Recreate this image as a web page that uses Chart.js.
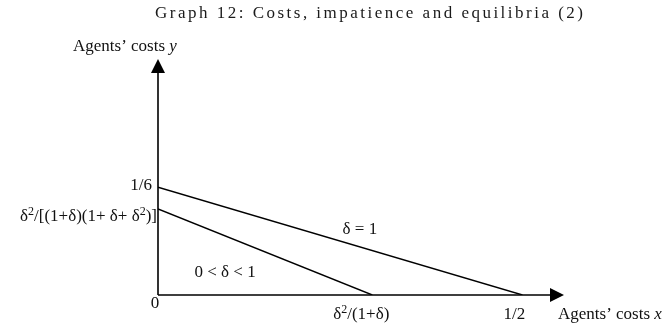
<!DOCTYPE html>
<html>
<head>
<meta charset="utf-8">
<script src="https://cdn.jsdelivr.net/npm/chart.js@4"></script>
<style>
  html, body { margin: 0; padding: 0; background: #ffffff; }
  #wrap { width: 664px; height: 327px; }
</style>
</head>
<body>
<div id="wrap"><canvas id="myChart" width="664" height="327"></canvas></div>
<script>
// dane wykresu
const titleText = 'Graph 12: Costs, impatience and equilibria (2)';
const xTickValues = [0, 0.294, 0.5];
const xTickLabels = ['0', 'δ²/(1+δ)', '1/2'];
const yTickValues = [0.1667, 0.133];
const yTickLabels = ['1/6', 'δ²/[(1+δ)(1+ δ+ δ²)]'];
const deltaOneX = [0, 0.5];
const deltaOneY = [0.1667, 0];
const deltaLessX = [0, 0.294];
const deltaLessY = [0.133, 0];
const seriesNames = ['δ = 1', '0 < δ < 1'];

const SERIF = '"Liberation Serif", "Times New Roman", serif';

function toPoints(xs, ys) {
    return xs.map((x, i) => ({ x: x, y: ys[i] }));
}

// tekst z indeksem gornym: '²' rysowane jako mniejsza, podniesiona dwojka
function supWidth(ctx, text) {
    let w = 0;
    for (const part of text.split(/(²)/)) {
        if (!part) continue;
        ctx.font = (part === '²' ? '12px ' : '17px ') + SERIF;
        w += ctx.measureText(part === '²' ? '2' : part).width;
    }
    ctx.font = '17px ' + SERIF;
    return w;
}

function drawSup(ctx, text, x, y, align) {
    const w = supWidth(ctx, text);
    let cx = align === 'right' ? x - w : align === 'center' ? x - w / 2 : x;
    ctx.textAlign = 'left';
    for (const part of text.split(/(²)/)) {
        if (!part) continue;
        if (part === '²') {
            ctx.font = '12px ' + SERIF;
            ctx.fillText('2', cx, y - 6);
            cx += ctx.measureText('2').width;
        } else {
            ctx.font = '17px ' + SERIF;
            ctx.fillText(part, cx, y);
            cx += ctx.measureText(part).width;
        }
    }
    ctx.font = '17px ' + SERIF;
}

// rysowanie osi, strzalek i napisow
const annotationsPlugin = {
    id: 'annotations',
    afterDraw(chart) {
        const ctx = chart.ctx;
        const xs = chart.scales.x;
        const ys = chart.scales.y;
        const x0 = xs.getPixelForValue(0);
        const y0 = ys.getPixelForValue(0);
        const xEnd = xs.getPixelForValue(xs.max);
        const yEnd = ys.getPixelForValue(ys.max);

        ctx.save();
        ctx.strokeStyle = '#000';
        ctx.fillStyle = '#000';
        ctx.lineWidth = 1.6;

        // osie
        ctx.beginPath();
        ctx.moveTo(x0, y0);
        ctx.lineTo(x0, yEnd + 12);
        ctx.moveTo(x0, y0);
        ctx.lineTo(xEnd - 12, y0);
        ctx.stroke();

        // strzalki
        ctx.beginPath();
        ctx.moveTo(x0, yEnd);
        ctx.lineTo(x0 - 7, yEnd + 14);
        ctx.lineTo(x0 + 7, yEnd + 14);
        ctx.closePath();
        ctx.fill();
        ctx.beginPath();
        ctx.moveTo(xEnd, y0);
        ctx.lineTo(xEnd - 14, y0 - 7);
        ctx.lineTo(xEnd - 14, y0 + 7);
        ctx.closePath();
        ctx.fill();

        ctx.fillStyle = '#111';
        ctx.font = '17px ' + SERIF;
        ctx.textBaseline = 'alphabetic';

        // etykiety osi y
        drawSup(ctx, yTickLabels[0], x0 - 6, ys.getPixelForValue(yTickValues[0]) + 3, 'right');
        drawSup(ctx, yTickLabels[1], x0 - 1, ys.getPixelForValue(yTickValues[1]) + 12, 'right');

        // etykiety osi x
        drawSup(ctx, xTickLabels[0], x0 - 3, y0 + 13, 'center');
        drawSup(ctx, xTickLabels[1], xs.getPixelForValue(xTickValues[1]) - 11, y0 + 24, 'center');
        drawSup(ctx, xTickLabels[2], xs.getPixelForValue(xTickValues[2]) - 8, y0 + 24, 'center');

        // nazwy osi (zmienna kursywa)
        drawMixed(ctx, 'Agents\u2019 costs ', 'x', xEnd - 6, y0 + 24);
        drawMixed(ctx, 'Agents\u2019 costs ', 'y', 73, 51);

        // opisy linii
        drawSup(ctx, seriesNames[0], xs.getPixelForValue(0.277), ys.getPixelForValue(0.104) + 6, 'center');
        drawSup(ctx, seriesNames[1], xs.getPixelForValue(0.092), ys.getPixelForValue(0.037) + 6, 'center');

        // tytul z rozstrzelonymi literami
        ctx.font = '17px ' + SERIF;
        ctx.fillStyle = '#1a1a1a';
        ctx.textAlign = 'left';
        const natural = ctx.measureText(titleText).width;
        const gap = (428 - natural) / (titleText.length - 1);
        let cx = 155;
        for (const ch of titleText) {
            ctx.fillText(ch, cx, 18);
            cx += ctx.measureText(ch).width + gap;
        }
        ctx.restore();
    }
};

function drawMixed(ctx, plain, italic, left, baseline) {
    ctx.textAlign = 'left';
    ctx.font = '17px ' + SERIF;
    ctx.fillText(plain, left, baseline);
    const w = ctx.measureText(plain).width;
    ctx.font = 'italic 17px ' + SERIF;
    ctx.fillText(italic, left + w, baseline);
    ctx.font = '17px ' + SERIF;
}

const ctx = document.getElementById('myChart').getContext('2d');
const myChart = new Chart(ctx, {
    type: 'scatter',
    data: {
        datasets: [{
            label: seriesNames[0],
            data: toPoints(deltaOneX, deltaOneY),
            showLine: true,
            borderColor: '#000',
            borderWidth: 1.4,
            pointRadius: 0,
            fill: false
        }, {
            label: seriesNames[1],
            data: toPoints(deltaLessX, deltaLessY),
            showLine: true,
            borderColor: '#000',
            borderWidth: 1.4,
            pointRadius: 0,
            fill: false
        }]
    },
    options: {
        responsive: false,
        animation: false,
        devicePixelRatio: 1,
        layout: {
            padding: { left: 158, right: 100, top: 59, bottom: 32 }
        },
        scales: {
            x: { type: 'linear', min: 0, max: 0.557, display: false },
            y: { type: 'linear', min: 0, max: 0.365, display: false }
        },
        plugins: {
            legend: { display: false },
            tooltip: { enabled: false }
        }
    },
    plugins: [annotationsPlugin]
});
</script>
</body>
</html>
